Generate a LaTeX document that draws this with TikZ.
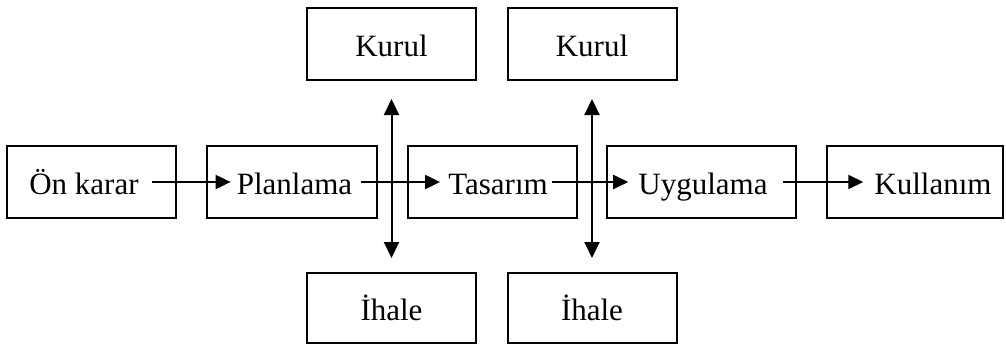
\documentclass[tikz,border=0pt]{standalone}
\usepackage{fontspec}
\setmainfont{Liberation Serif}
\usetikzlibrary{arrows.meta}
\begin{document}
\begin{tikzpicture}[x=1pt,y=-1pt,
  every node/.style={font=\fontsize{31}{36}\selectfont},
  box/.style={draw, line width=2pt, minimum height=72pt, inner sep=0pt},
  lbl/.style={inner sep=0pt, text height=28pt, text depth=3pt},
  flow/.style={line width=2pt, -{Triangle[length=15pt,width=14pt]}},
  both/.style={line width=2pt, {Triangle[length=16pt,width=15pt]}-{Triangle[length=16pt,width=15pt]}}]
\useasboundingbox (0,0) rectangle (1006,345);

% main process boxes
\node[box, minimum width=169pt] (b1) at (91.5,182) {};
\node[box, minimum width=170pt] (b2) at (292,182) {};
\node[box, minimum width=169pt] (b3) at (492.5,182) {};
\node[box, minimum width=189pt] (b4) at (701.5,182) {};
\node[box, minimum width=176pt] (b5) at (915,182) {};

% their labels
\node[lbl] (t1) at (84,182) {Ön karar};
\node[lbl] (t2) at (294.5,182) {Planlama};
\node[lbl] (t3) at (498,182) {Tasarım};
\node[lbl] (t4) at (703,182) {Uygulama};
\node[lbl] (t5) at (933,182) {Kullanım};

% side boxes
\node[box, lbl, draw, minimum width=169pt, minimum height=72pt] (k1) at (391.5,44) {Kurul};
\node[box, lbl, draw, minimum width=169pt, minimum height=72pt] (k2) at (592,44) {Kurul};
\node[box, lbl, draw, minimum width=169pt, minimum height=70pt] (i1) at (391.5,308) {İhale};
\node[box, lbl, draw, minimum width=169pt, minimum height=70pt] (i2) at (592,308) {İhale};

% flow arrows
\draw[flow, shorten <=13pt, shorten >=6pt] (t1) -- (t2);
\draw[flow, shorten <=9pt, shorten >=8pt] (t2) -- (t3);
\draw[flow, shorten <=4pt, shorten >=10pt] (t3) -- (t4);
\draw[flow, shorten <=15pt, shorten >=11pt] (t4) -- (t5);

% vertical double arrows
\draw[both, shorten <=18pt, shorten >=14pt] (k1) -- (i1);
\draw[both, shorten <=18pt, shorten >=14pt] (k2) -- (i2);
\end{tikzpicture}
\end{document}
